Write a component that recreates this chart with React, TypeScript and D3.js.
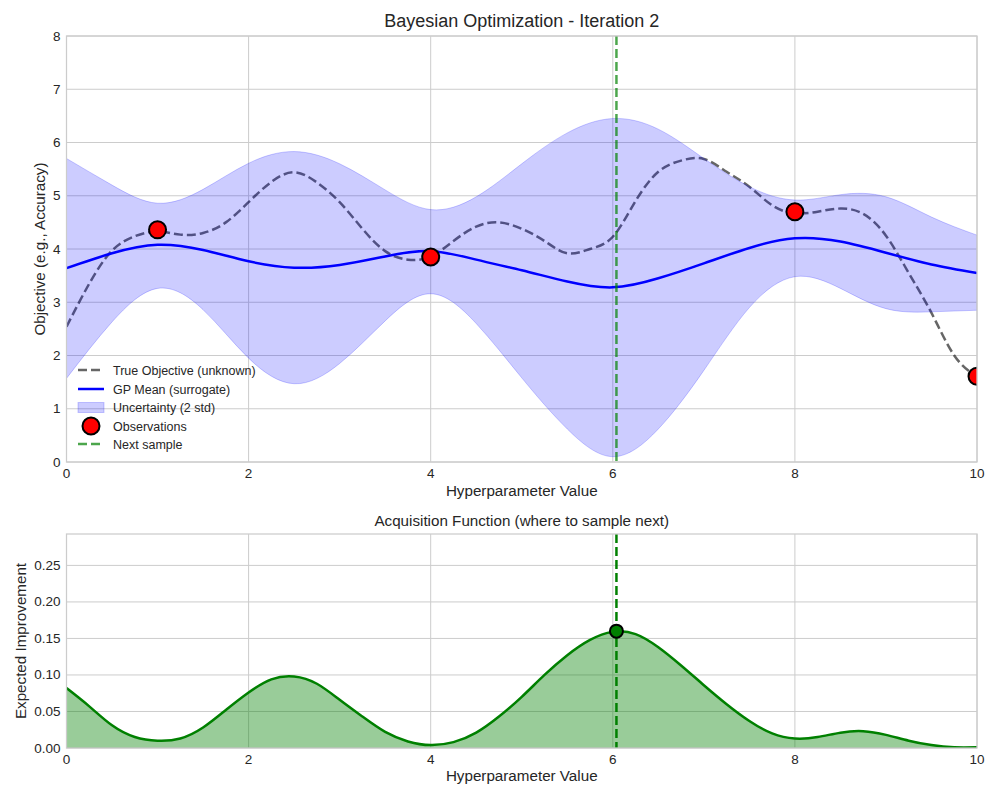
import * as d3 from "d3";

// top panel: true objective sampled every 0.25
const trueX = d3.range(0, 10.001, 0.25);
const trueY = [
  2.54, 3.35, 3.97, 4.24, 4.33, 4.27, 4.3, 4.5, 4.88, 5.26, 5.44, 5.25, 4.88,
  4.38, 3.96, 3.8, 3.86, 4.15, 4.42, 4.5, 4.38, 4.15, 3.92, 4.0, 4.23, 4.9, 5.45,
  5.66, 5.69, 5.45, 5.17, 4.82, 4.67, 4.7, 4.76, 4.66, 4.25, 3.55, 2.8, 2.0,
  1.6,
];

// GP posterior sampled every 0.5
const gpX = d3.range(0, 10.001, 0.5);
const gpMean = [
  3.64, 3.92, 4.08, 3.98, 3.77, 3.65, 3.7, 3.86, 3.96, 3.8, 3.6, 3.39, 3.28,
  3.45, 3.73, 4.02, 4.2, 4.14, 3.93, 3.71, 3.55,
];
const gpUpper = [
  5.7, 5.2, 4.86, 5.12, 5.61, 5.83, 5.6, 5.11, 4.74, 4.98, 5.6, 6.18, 6.45,
  6.25, 5.7, 5.17, 4.92, 5.02, 4.98, 4.6, 4.26,
];
const gpLower = [
  1.57, 2.63, 3.26, 2.86, 1.95, 1.47, 1.85, 2.65, 3.16, 2.6, 1.58, 0.62, 0.1,
  0.62, 1.72, 2.9, 3.48, 3.26, 2.88, 2.82, 2.85,
];

const obsX = [1, 4, 8, 10];
const obsY = [4.36, 3.85, 4.7, 1.61];

const nextX = 6.04;

// bottom panel: expected improvement every 0.25
const eiX = d3.range(0, 10.001, 0.25);
const eiY = [
  0.082, 0.057, 0.031, 0.015, 0.01, 0.013, 0.028, 0.052, 0.076, 0.094, 0.098,
  0.088, 0.066, 0.043, 0.022, 0.009, 0.004, 0.008, 0.021, 0.043, 0.07, 0.1,
  0.127, 0.148, 0.159, 0.156, 0.138, 0.113, 0.086, 0.06, 0.037, 0.02, 0.013,
  0.015, 0.021, 0.023, 0.018, 0.01, 0.004, 0.001, 0.001,
];
const eiNext = 0.16;

const xTicks = [0, 2, 4, 6, 8, 10];
const topYTicks = [0, 1, 2, 3, 4, 5, 6, 7, 8];
const botYTicks = [0, 0.05, 0.1, 0.15, 0.2, 0.25];

const legendItems = [
  "True Objective (unknown)",
  "GP Mean (surrogate)",
  "Uncertainty (2 std)",
  "Observations",
  "Next sample",
];

const FONT = "'Liberation Sans', Arial, sans-serif";
const TXT = "#262626";
const GRID = "#cccccc";

const L = 66.5;
const R = 977;
const top1 = 36;
const bot1 = 462;
const top2 = 534;
const bot2 = 748;

export default function App() {
  const x = d3.scaleLinear().domain([0, 10]).range([L, R]);
  const y1 = d3.scaleLinear().domain([0, 8]).range([bot1, top1]);
  const y2 = d3.scaleLinear().domain([0, 0.293]).range([bot2, top2]);
  const curve = d3.curveNatural;

  const trueLine = d3
    .line<number>()
    .x((_, i) => x(trueX[i]))
    .y((d) => y1(d))
    .curve(curve);
  const gpLine = d3
    .line<number>()
    .x((_, i) => x(gpX[i]))
    .y((d) => y1(d))
    .curve(curve);
  const band = d3
    .area<number>()
    .x((_, i) => x(gpX[i]))
    .y0((_, i) => y1(gpLower[i]))
    .y1((d) => y1(d))
    .curve(curve);
  const eiLine = d3
    .line<number>()
    .x((_, i) => x(eiX[i]))
    .y((d) => y2(d))
    .curve(curve);
  const eiArea = d3
    .area<number>()
    .x((_, i) => x(eiX[i]))
    .y0(bot2)
    .y1((d) => y2(d))
    .curve(curve);

  const legendRows = [370, 389, 407.5, 426, 444];

  return (
    <svg width={1000} height={800} style={{ position: "absolute", left: 0, top: 0 }} fontFamily={FONT}>
      <defs>
        <clipPath id="clipTop">
          <rect x={L} y={top1} width={R - L} height={bot1 - top1} />
        </clipPath>
        <clipPath id="clipBot">
          <rect x={L} y={top2} width={R - L} height={bot2 - top2} />
        </clipPath>
      </defs>
      <rect width={1000} height={800} fill="white" />

      {/* top panel */}
      <g>
        {xTicks.map((t) => (
          <line key={t} x1={x(t)} x2={x(t)} y1={top1} y2={bot1} stroke={GRID} strokeWidth={1} />
        ))}
        {topYTicks.map((t) => (
          <line key={t} x1={L} x2={R} y1={y1(t)} y2={y1(t)} stroke={GRID} strokeWidth={1} />
        ))}
        <g clipPath="url(#clipTop)">
          <path d={trueLine(trueY) ?? ""} fill="none" stroke="black" strokeOpacity={0.6} strokeWidth={2.5} strokeDasharray="9,4" />
          <path d={gpLine(gpMean) ?? ""} fill="none" stroke="blue" strokeWidth={2.5} />
          <path d={band(gpUpper) ?? ""} fill="blue" fillOpacity={0.2} />
          <path d={gpLine(gpUpper) ?? ""} fill="none" stroke="blue" strokeOpacity={0.2} strokeWidth={1} />
          <path d={gpLine(gpLower) ?? ""} fill="none" stroke="blue" strokeOpacity={0.2} strokeWidth={1} />
          {obsX.map((ox, i) => (
            <circle key={ox} cx={x(ox)} cy={y1(obsY[i])} r={8.5} fill="red" stroke="black" strokeWidth={2} />
          ))}
          <line x1={x(nextX)} x2={x(nextX)} y1={top1} y2={bot1} stroke="green" strokeOpacity={0.7} strokeWidth={2.5} strokeDasharray="9,4" />
        </g>
        <rect x={L} y={top1} width={R - L} height={bot1 - top1} fill="none" stroke={GRID} strokeWidth={1.25} />
        {xTicks.map((t) => (
          <text key={t} x={x(t)} y={bot1 + 16} textAnchor="middle" fontSize={13.5} fill={TXT}>
            {t}
          </text>
        ))}
        {topYTicks.map((t) => (
          <text key={t} x={L - 6} y={y1(t) + 4.5} textAnchor="end" fontSize={13.5} fill={TXT}>
            {t}
          </text>
        ))}
        <text x={(L + R) / 2} y={496} textAnchor="middle" fontSize={15.2} fill={TXT}>
          Hyperparameter Value
        </text>
        <text transform={`translate(45,${(top1 + bot1) / 2}) rotate(-90)`} textAnchor="middle" fontSize={15.2} fill={TXT}>
          Objective (e.g., Accuracy)
        </text>
        <text x={(L + R) / 2} y={27} textAnchor="middle" fontSize={18} fill={TXT}>
          Bayesian Optimization - Iteration 2
        </text>

        {/* legend */}
        <g fontSize={12.5} fill={TXT}>
          <line x1={78} x2={104} y1={legendRows[0]} y2={legendRows[0]} stroke="black" strokeOpacity={0.6} strokeWidth={2.5} strokeDasharray="9,4" />
          <line x1={78} x2={104} y1={legendRows[1]} y2={legendRows[1]} stroke="blue" strokeWidth={2.5} />
          <rect x={78} y={legendRows[2] - 5} width={26} height={10} fill="blue" fillOpacity={0.2} stroke="blue" strokeOpacity={0.2} />
          <circle cx={91} cy={legendRows[3]} r={8.5} fill="red" stroke="black" strokeWidth={2} />
          <line x1={78} x2={104} y1={legendRows[4]} y2={legendRows[4]} stroke="green" strokeOpacity={0.7} strokeWidth={2.5} strokeDasharray="9,4" />
          {legendItems.map((s, i) => (
            <text key={s} x={113} y={legendRows[i] + 4.5}>
              {s}
            </text>
          ))}
        </g>
      </g>

      {/* bottom panel */}
      <g>
        {xTicks.map((t) => (
          <line key={t} x1={x(t)} x2={x(t)} y1={top2} y2={bot2} stroke={GRID} strokeWidth={1} />
        ))}
        {botYTicks.map((t) => (
          <line key={t} x1={L} x2={R} y1={y2(t)} y2={y2(t)} stroke={GRID} strokeWidth={1} />
        ))}
        <g clipPath="url(#clipBot)">
          <path d={eiArea(eiY) ?? ""} fill="green" fillOpacity={0.4} />
          <path d={eiLine(eiY) ?? ""} fill="none" stroke="green" strokeWidth={2.5} />
          <line x1={x(nextX)} x2={x(nextX)} y1={top2} y2={bot2} stroke="green" strokeWidth={2.5} strokeDasharray="9,4" />
          <circle cx={x(nextX)} cy={y2(eiNext)} r={6.5} fill="green" stroke="black" strokeWidth={2} />
        </g>
        <rect x={L} y={top2} width={R - L} height={bot2 - top2} fill="none" stroke={GRID} strokeWidth={1.25} />
        {xTicks.map((t) => (
          <text key={t} x={x(t)} y={bot2 + 16} textAnchor="middle" fontSize={13.5} fill={TXT}>
            {t}
          </text>
        ))}
        {botYTicks.map((t) => (
          <text key={t} x={L - 6} y={y2(t) + 4.5} textAnchor="end" fontSize={13.5} fill={TXT}>
            {d3.format(".2f")(t)}
          </text>
        ))}
        <text x={(L + R) / 2} y={781} textAnchor="middle" fontSize={15.2} fill={TXT}>
          Hyperparameter Value
        </text>
        <text transform={`translate(26,${(top2 + bot2) / 2}) rotate(-90)`} textAnchor="middle" fontSize={15.2} fill={TXT}>
          Expected Improvement
        </text>
        <text x={(L + R) / 2} y={526} textAnchor="middle" fontSize={15.2} fill={TXT}>
          Acquisition Function (where to sample next)
        </text>
      </g>
    </svg>
  );
}
